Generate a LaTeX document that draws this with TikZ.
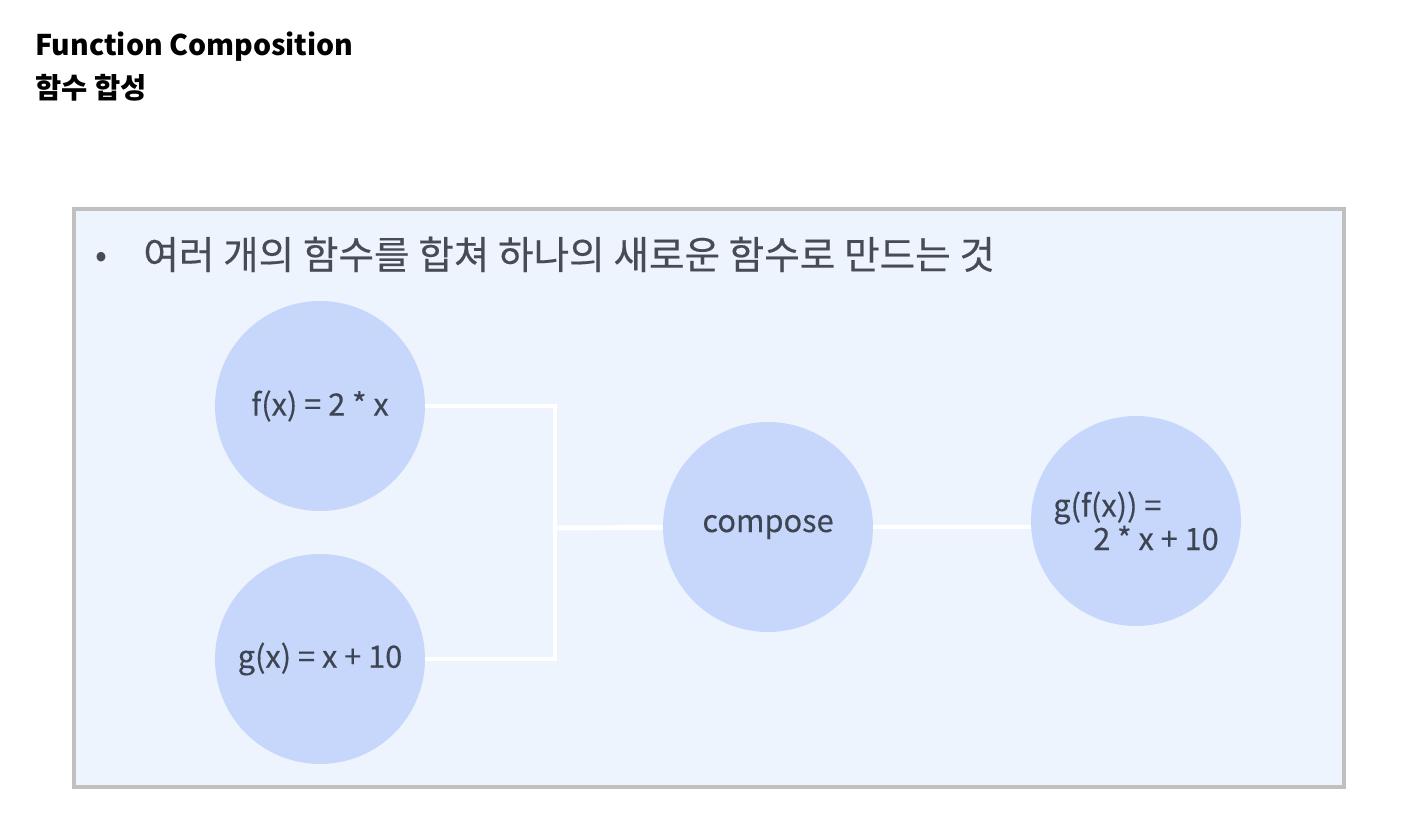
\documentclass[tikz,border=0pt]{standalone}
\usepackage{fontspec}
\setmainfont{Noto Sans CJK KR}
\newfontfamily\medfont[FakeBold=0.35]{Noto Sans CJK KR}
\usepackage{xcolor}
\usepackage{tikz}
\definecolor{panelfill}{HTML}{EDF4FE}
\definecolor{panelline}{HTML}{C0C0C0}
\definecolor{ballfill}{HTML}{C6D7FB}
\definecolor{inktext}{HTML}{3E4552}
\definecolor{bullettext}{HTML}{464B54}

\begin{document}
\begin{tikzpicture}[x=0.02cm, y=-0.02cm]
\tikzstyle{ball}=[circle, fill=ballfill, minimum size=4.2cm, inner sep=0pt, text=inktext, font=\medfont\fontsize{17.5}{19}\selectfont]
\tikzstyle{link}=[draw=white, line width=2.8pt]
\tikzstyle{heading}=[anchor=base west, inner sep=0pt, font=\fontsize{16.2}{20}\selectfont\bfseries]
\useasboundingbox (0,0) rectangle (1417,820);

\node[heading] (title) at (35,56) {Function Composition};
\node[heading] (subtitle) at (35,99) {함수 합성};

\draw[panelline, line width=2.3pt, fill=panelfill] (74,209) rectangle (1344,787);

\node[anchor=base, inner sep=0pt, text=bullettext, font=\fontsize{20}{23}\selectfont] (dot) at (101,268) {•};
\node[anchor=base west, inner sep=0pt, text=bullettext, font=\medfont\fontsize{22}{26}\selectfont] (lead) at (143,269) {여러 개의 함수를 합쳐 하나의 새로운 함수로 만드는 것};

\node[ball] (f) at (320,406) {f(x) = 2 * x};
\node[ball] (g) at (320,659) {g(x) = x + 10};
\node[ball] (c) at (768,527) {compose};
\node[ball, align=left] (r) at (1136,521) {g(f(x)) =\\\hspace*{0.8cm}2 * x + 10};
\coordinate (join) at (555,528);

\draw[link] (f) -| (join);
\draw[link] (g) -| (join);
\draw[link] (join) -- (c);
\draw[link] (c) -- (r.west |- c);

\end{tikzpicture}
\end{document}
